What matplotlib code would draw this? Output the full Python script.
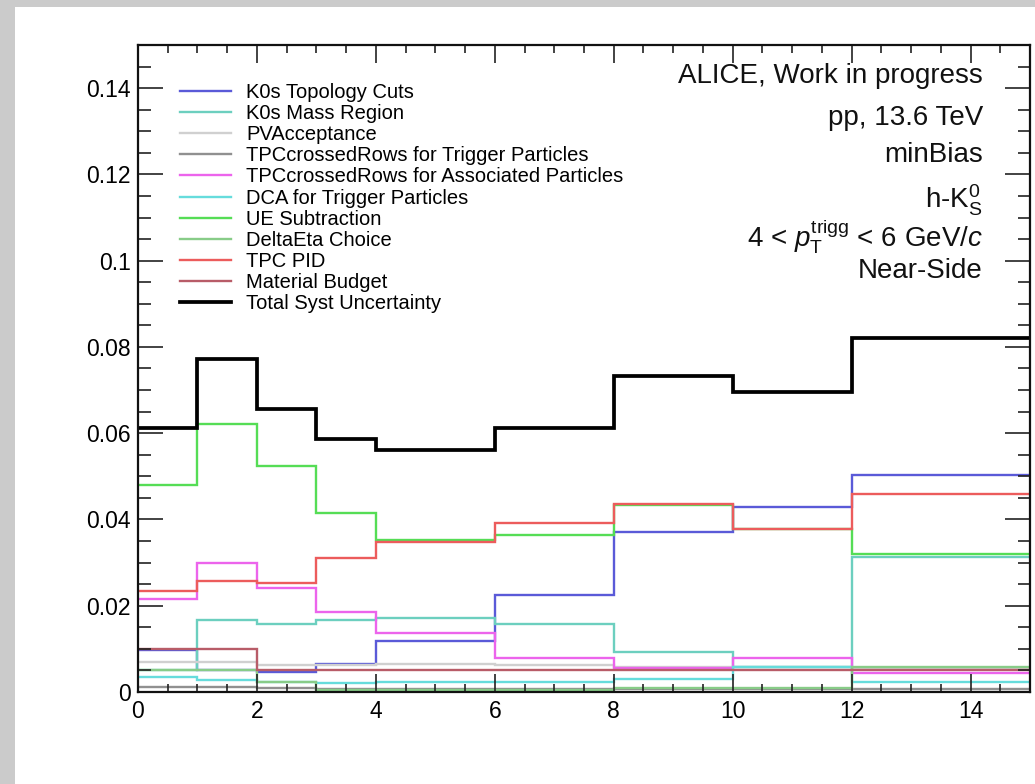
import matplotlib
matplotlib.use('Agg')
import matplotlib.pyplot as plt
from matplotlib.lines import Line2D
from matplotlib.patches import Rectangle
from matplotlib.ticker import MultipleLocator, FuncFormatter

# ---------------- data ----------------
bin_edges = [0, 1, 2, 3, 4, 6, 8, 10, 12, 15]

series_labels = [
    "K0s Topology Cuts",
    "K0s Mass Region",
    "PVAcceptance",
    "TPCcrossedRows for Trigger Particles",
    "TPCcrossedRows for Associated Particles",
    "DCA for Trigger Particles",
    "UE Subtraction",
    "DeltaEta Choice",
    "TPC PID",
    "Material Budget",
    "Total Syst Uncertainty",
]

k0s_topology = [0.0098, 0.0050, 0.0047, 0.0064, 0.0119, 0.0226, 0.0371, 0.0429, 0.0502]
k0s_mass = [0.0050, 0.0167, 0.0157, 0.0168, 0.0171, 0.0157, 0.0092, 0.0057, 0.0313]
pv_acceptance = [0.0070, 0.0070, 0.0063, 0.0063, 0.0066, 0.0063, 0.0058, 0.0058, 0.0056]
tpc_rows_trigger = [0.0012, 0.0012, 0.0010, 0.0008, 0.0008, 0.0008, 0.0008, 0.0008, 0.0008]
tpc_rows_assoc = [0.0215, 0.0298, 0.0240, 0.0185, 0.0136, 0.0078, 0.0055, 0.0078, 0.0043]
dca_trigger = [0.0034, 0.0028, 0.0024, 0.0020, 0.0024, 0.0024, 0.0029, 0.0059, 0.0024]
ue_subtraction = [0.0481, 0.0622, 0.0523, 0.0416, 0.0352, 0.0364, 0.0433, 0.0377, 0.0321]
deltaeta_choice = [0.0050, 0.0050, 0.0024, 0.0005, 0.0005, 0.0005, 0.0009, 0.0009, 0.0057]
tpc_pid = [0.0235, 0.0257, 0.0253, 0.0311, 0.0348, 0.0391, 0.0437, 0.0377, 0.0458]
material_budget = [0.0099, 0.0099, 0.0051, 0.0051, 0.0051, 0.0051, 0.0051, 0.0051, 0.0051]
total_syst = [0.0612, 0.0771, 0.0657, 0.0587, 0.0562, 0.0612, 0.0733, 0.0696, 0.0821]

all_series = [k0s_topology, k0s_mass, pv_acceptance, tpc_rows_trigger, tpc_rows_assoc,
              dca_trigger, ue_subtraction, deltaeta_choice, tpc_pid, material_budget, total_syst]

colors = ["#5a5ad8", "#6ccfbf", "#d0d0d0", "#909090", "#ec64ec", "#66dcdc",
          "#55dd55", "#88cc88", "#ec5c5c", "#b85c68", "#000000"]
widths = [1.7] * 10 + [2.7]

# ---------------- figure ----------------
plt.rcParams['font.family'] = ['Liberation Sans', 'DejaVu Sans']
plt.rcParams['mathtext.fontset'] = 'custom'
plt.rcParams['mathtext.rm'] = 'Liberation Sans'
plt.rcParams['mathtext.it'] = 'Liberation Sans:italic'
plt.rcParams['mathtext.bf'] = 'Liberation Sans:bold'

W, H = 1035, 784
fig = plt.figure(figsize=(W / 100, H / 100), dpi=100, facecolor="#cbcbcb")
fig.patches.append(Rectangle((15 / W, 0), 1, 1 - 7 / H, transform=fig.transFigure,
                             facecolor="white", edgecolor="none", zorder=-10))

ax = fig.add_axes([138 / W, 1 - 692 / H, (1030 - 138) / W, (692 - 45) / H])
ax.set_zorder(5)
ax.set_facecolor("white")

for vals, col, lw in zip(all_series, colors, widths):
    ax.stairs(vals, bin_edges, baseline=None, color=col, linewidth=lw)

ax.set_xlim(0, 15)
ax.set_ylim(0, 0.15)

ax.xaxis.set_major_locator(MultipleLocator(2))
ax.xaxis.set_minor_locator(MultipleLocator(0.5))
ax.yaxis.set_major_locator(MultipleLocator(0.02))
ax.yaxis.set_minor_locator(MultipleLocator(0.005))
ax.yaxis.set_major_formatter(FuncFormatter(lambda v, p: "0" if abs(v) < 1e-12 else ("%g" % round(v, 3))))

ax.tick_params(axis='both', which='both', direction='in', top=True, right=True,
               color="#222222", width=1.2)
ax.tick_params(axis='y', which='major', length=18, labelsize=16.5, pad=5)
ax.tick_params(axis='y', which='minor', length=9)
ax.tick_params(axis='x', which='major', length=13, labelsize=16.5, pad=6)
ax.tick_params(axis='x', which='minor', length=6)
for s in ax.spines.values():
    s.set_linewidth(1.6)
    s.set_color("#111111")

# legend
handles = [Line2D([], [], color=c, linewidth=lw) for c, lw in zip(colors, widths)]
fs = 14.5
ax.legend(handles, series_labels, loc='upper left',
          bbox_to_anchor=(182 / W - 0.002, 1 - 83 / H), bbox_transform=fig.transFigure,
          frameon=False, fontsize=fs, handlelength=2.53, handletextpad=0.75,
          labelspacing=0.105, borderpad=0, borderaxespad=0)

# annotations (right aligned)
xr = 983 / W
txt_kw = dict(ha='right', va='baseline', fontsize=20, color="#111111", transform=fig.transFigure,
              zorder=10)
fig.text(xr, 1 - 83 / H, "ALICE, Work in progress", **txt_kw)
fig.text(xr, 1 - 125 / H, "pp, 13.6 TeV", **txt_kw)
fig.text(xr, 1 - 162 / H, "minBias", **txt_kw)
fig.text(xr, 1 - 208 / H, r"h-K$^{0}_{\mathrm{S}}$", **txt_kw)
fig.text(xr, 1 - 247 / H, r"4 < $p_{\mathrm{T}}^{\mathrm{trigg}}$ < 6 GeV/$c$", **txt_kw)
fig.text(xr, 1 - 278 / H, "Near-Side", **txt_kw)

fig.savefig("out.png", dpi=100, facecolor=fig.get_facecolor())
